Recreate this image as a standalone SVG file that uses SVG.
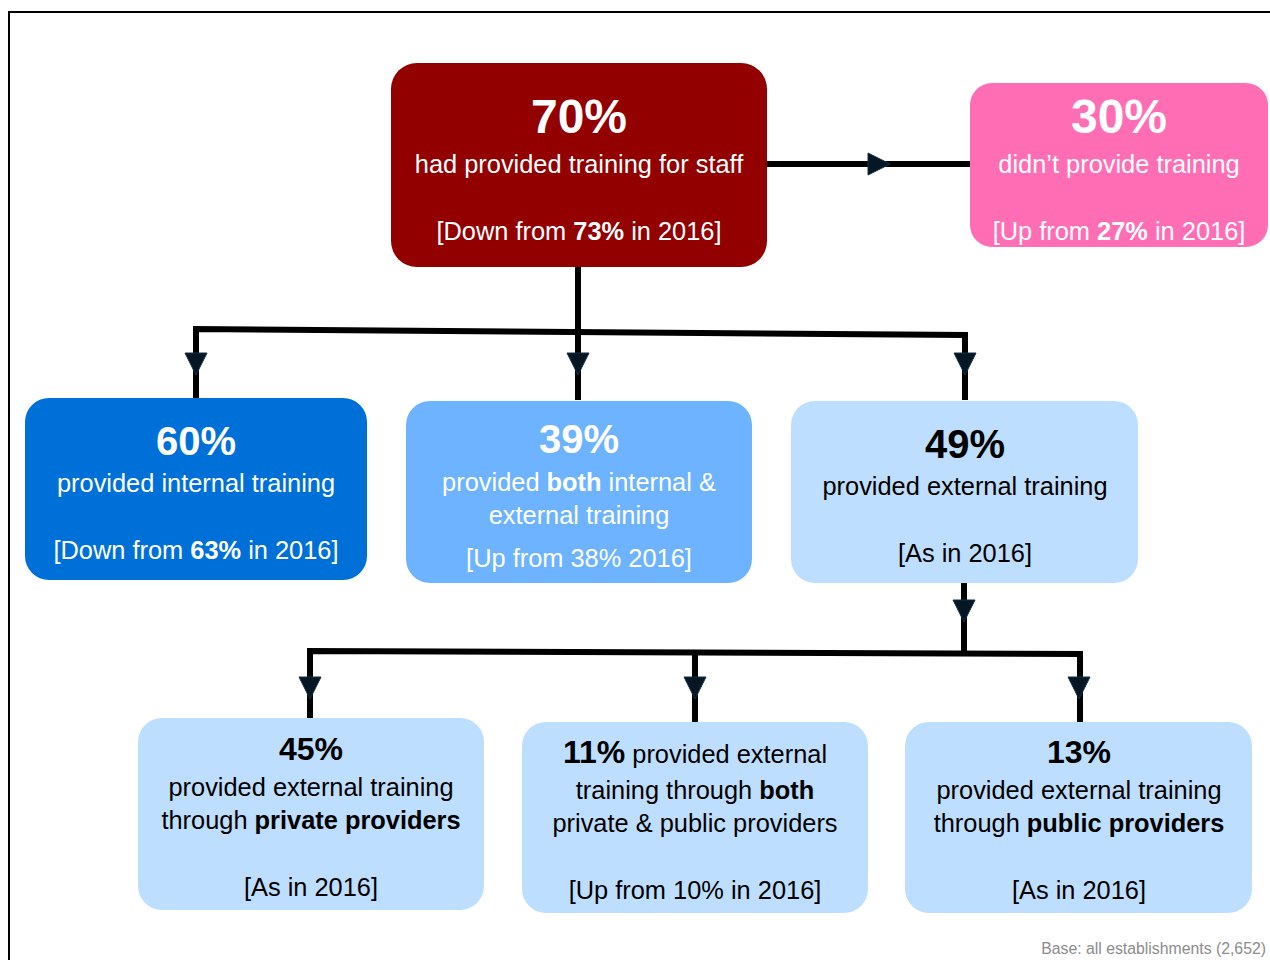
<svg xmlns="http://www.w3.org/2000/svg" width="1270" height="960" viewBox="0 0 1270 960">
<style>
text{font-family:"Liberation Sans",Arial,sans-serif;text-anchor:middle}
.big{font-size:48px;font-weight:bold}
.mid{font-size:40px;font-weight:bold}
.sm{font-size:32px;font-weight:bold}
.t{font-size:25.4px}
.w{fill:#fff}
.k{fill:#000}
.conn{stroke:#000;stroke-width:6;fill:none}
.ah{fill:#061622;stroke:#12304a;stroke-width:1}
</style>
<rect x="0" y="0" width="1270" height="960" fill="#fff"/>
<path d="M9,962 L9,12 L1272,12" fill="none" stroke="#000" stroke-width="2"/>

<g id="connectors">
<line class="conn" x1="767" y1="164" x2="970" y2="164"/>
<path class="ah" d="M868,153 L890,164 L868,175 Z"/>
<line class="conn" x1="578" y1="267" x2="578" y2="333"/>
<polyline class="conn" points="196,398 196,329 965,335 965,400"/>
<line class="conn" x1="578" y1="330" x2="578" y2="400"/>
<path class="ah" d="M185,353 L207,353 L196,375 Z"/>
<path class="ah" d="M567,353 L589,353 L578,375 Z"/>
<path class="ah" d="M954,353 L976,353 L965,375 Z"/>
<line class="conn" x1="964" y1="583" x2="964" y2="654"/>
<path class="ah" d="M953,600 L975,600 L964,622 Z"/>
<polyline class="conn" points="310,718 310,651 1080,654 1080,722"/>
<line class="conn" x1="695" y1="655" x2="695" y2="722"/>
<path class="ah" d="M299,677 L321,677 L310,699 Z"/>
<path class="ah" d="M684,677 L706,677 L695,699 Z"/>
<path class="ah" d="M1068,677 L1090,677 L1079,699 Z"/>
</g>

<g id="n70">
<rect x="391" y="63" width="376" height="204" rx="26" fill="#920000"/>
<text class="big w" x="579" y="133">70%</text>
<text class="t w" x="579" y="173">had provided training for staff</text>
<text class="t w" x="579" y="240">[Down from <tspan font-weight="bold">73%</tspan> in 2016]</text>
</g>

<g id="n30">
<rect x="970" y="83" width="298" height="164" rx="22" fill="#ff6eb4"/>
<text class="big w" x="1119" y="133">30%</text>
<text class="t w" x="1119" y="173">didn’t provide training</text>
<text class="t w" x="1119" y="240">[Up from <tspan font-weight="bold">27%</tspan> in 2016]</text>
</g>

<g id="n60">
<rect x="25" y="398" width="342" height="182" rx="24" fill="#0070d9"/>
<text class="mid w" x="196" y="455">60%</text>
<text class="t w" x="196" y="492">provided internal training</text>
<text class="t w" x="196" y="559">[Down from <tspan font-weight="bold">63%</tspan> in 2016]</text>
</g>

<g id="n39">
<rect x="406" y="401" width="346" height="182" rx="24" fill="#6db3ff"/>
<text class="mid w" x="579" y="453">39%</text>
<text class="t w" x="579" y="491">provided <tspan font-weight="bold">both</tspan> internal &amp;</text>
<text class="t w" x="579" y="524">external training</text>
<text class="t w" x="579" y="567">[Up from 38% 2016]</text>
</g>

<g id="n49">
<rect x="791" y="401" width="347" height="182" rx="24" fill="#bddeff"/>
<text class="mid k" x="965" y="458">49%</text>
<text class="t k" x="965" y="495">provided external training</text>
<text class="t k" x="965" y="562">[As in 2016]</text>
</g>

<g id="n45">
<rect x="138" y="718" width="346" height="192" rx="24" fill="#bddeff"/>
<text class="sm k" x="311" y="760">45%</text>
<text class="t k" x="311" y="796">provided external training</text>
<text class="t k" x="311" y="829">through <tspan font-weight="bold">private providers</tspan></text>
<text class="t k" x="311" y="896">[As in 2016]</text>
</g>

<g id="n11">
<rect x="522" y="722" width="346" height="191" rx="24" fill="#bddeff"/>
<text class="t k" x="695" y="763"><tspan font-size="32px" font-weight="bold">11%</tspan> provided external</text>
<text class="t k" x="695" y="799">training through <tspan font-weight="bold">both</tspan></text>
<text class="t k" x="695" y="832">private &amp; public providers</text>
<text class="t k" x="695" y="899">[Up from 10% in 2016]</text>
</g>

<g id="n13">
<rect x="905" y="722" width="347" height="191" rx="24" fill="#bddeff"/>
<text class="sm k" x="1079" y="763">13%</text>
<text class="t k" x="1079" y="799">provided external training</text>
<text class="t k" x="1079" y="832">through <tspan font-weight="bold">public providers</tspan></text>
<text class="t k" x="1079" y="899">[As in 2016]</text>
</g>

<text x="1266" y="954" style="text-anchor:end;font-size:15.8px;fill:#8c8c8c">Base: all establishments (2,652)</text>
</svg>
